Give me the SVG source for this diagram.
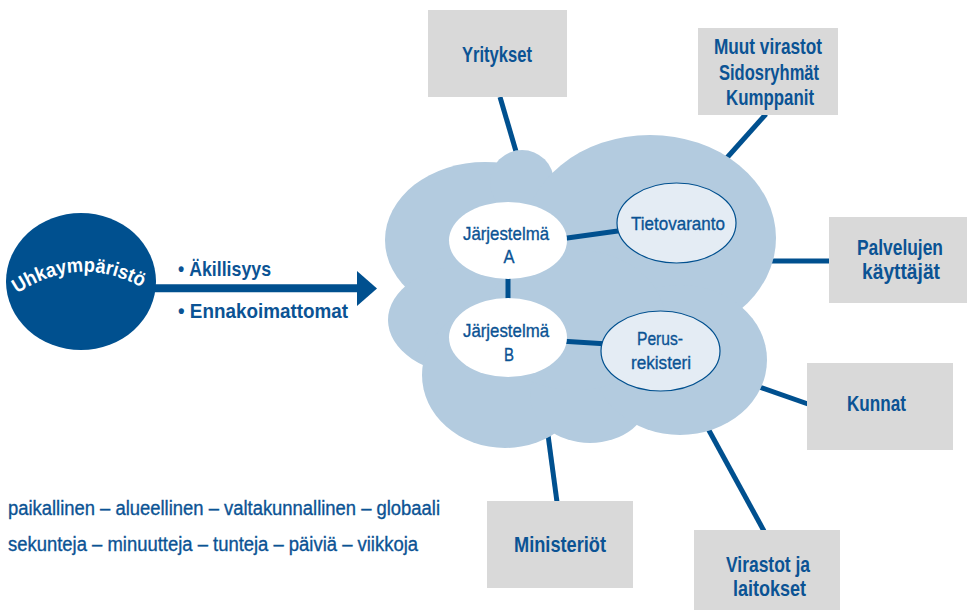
<svg xmlns="http://www.w3.org/2000/svg" width="967" height="610" viewBox="0 0 967 610">
  <defs>
    <style>
      .t { font-family: "Liberation Sans Narrow", "Liberation Sans", Arial, sans-serif; fill: #0b5394; }
      .r { stroke: #0b5394; stroke-width: 0.35; }
      .b { font-weight: bold; }
      .box { fill: #d9d9d9; }
      .lobe { fill: #b3cbdf; }
      .link { stroke: #00508f; stroke-width: 5; fill: none; }
      .sys { fill: #ffffff; }
      .store { fill: #e4ecf4; stroke: #00508f; stroke-width: 1.2; }
      .mid { text-anchor: middle; }
    </style>
    <!-- cloud outline built from overlapping lobes -->
    <g id="cloudShape">
      <ellipse cx="485" cy="240" rx="100" ry="78"/>
      <circle cx="522" cy="182" r="32"/>
      <ellipse cx="650" cy="238" rx="126" ry="103"/>
      <ellipse cx="470" cy="320" rx="82" ry="55"/>
      <ellipse cx="505" cy="375" rx="83" ry="73"/>
      <ellipse cx="590" cy="395" rx="60" ry="48"/>
      <ellipse cx="680" cy="360" rx="87" ry="75"/>
      <ellipse cx="575" cy="320" rx="90" ry="70"/>
    </g>
    <mask id="outsideCloud" maskUnits="userSpaceOnUse" x="0" y="0" width="967" height="610">
      <rect x="0" y="0" width="967" height="610" fill="#fff"/>
      <use href="#cloudShape" fill="#000"/>
    </mask>
    <path id="arcPath" d="M 12,297 Q 81,248 153,294"/>
  </defs>

  <rect width="967" height="610" fill="#ffffff"/>

  <!-- cloud -->
  <g id="cloud" class="lobe">
    <use href="#cloudShape"/>
  </g>

  <!-- connectors -->
  <g id="connectors">
    <g mask="url(#outsideCloud)">
      <line class="link" x1="500" y1="97" x2="520" y2="165"/>
      <line class="link" x1="766" y1="114" x2="716" y2="170"/>
      <line class="link" x1="830" y1="261" x2="760" y2="261"/>
      <line class="link" x1="808" y1="404" x2="745" y2="382"/>
      <line class="link" x1="764" y1="531" x2="700" y2="414"/>
      <line class="link" x1="557" y1="502" x2="546" y2="420"/>
    </g>
    <line class="link" x1="560" y1="239" x2="625" y2="230"/>
    <line class="link" x1="508" y1="270" x2="508" y2="305"/>
    <line class="link" x1="560" y1="341" x2="608" y2="344"/>
    <!-- threat arrow -->
    <line x1="150" y1="288.3" x2="359" y2="288.3" stroke="#00508f" stroke-width="8"/>
    <polygon points="357,271 377,288.5 357,306" fill="#00508f"/>
  </g>

  <!-- threat environment -->
  <g id="uhkaymparisto">
    <ellipse cx="81" cy="281.5" rx="75" ry="68.5" fill="#00508f"/>
    <text font-family="Liberation Sans Narrow, Liberation Sans, Arial, sans-serif" font-weight="bold" font-size="20" fill="#ffffff" textLength="132" lengthAdjust="spacingAndGlyphs">
      <textPath href="#arcPath" startOffset="6">Uhkaympäristö</textPath>
    </text>
  </g>

  <g id="ominaisuudet">
    <text class="t b" x="178" y="276" font-size="21" textLength="93" lengthAdjust="spacingAndGlyphs">• Äkillisyys</text>
    <text class="t b" x="178" y="318" font-size="21" textLength="170" lengthAdjust="spacingAndGlyphs">• Ennakoimattomat</text>
  </g>

  <!-- systems inside the cloud -->
  <g id="jarjestelmaA">
    <ellipse class="sys" cx="508" cy="240.5" rx="59" ry="38.5"/>
    <text class="t r mid" x="506" y="240" font-size="19" textLength="86" lengthAdjust="spacingAndGlyphs">Järjestelmä</text>
    <text class="t r mid" x="509" y="263" font-size="19" textLength="11" lengthAdjust="spacingAndGlyphs">A</text>
  </g>
  <g id="jarjestelmaB">
    <ellipse class="sys" cx="508" cy="337.5" rx="59" ry="39.5"/>
    <text class="t r mid" x="506" y="337" font-size="19" textLength="86" lengthAdjust="spacingAndGlyphs">Järjestelmä</text>
    <text class="t r mid" x="509" y="361" font-size="19" textLength="10" lengthAdjust="spacingAndGlyphs">B</text>
  </g>
  <g id="tietovaranto">
    <ellipse class="store" cx="676.5" cy="223" rx="59.5" ry="40"/>
    <text class="t r mid" x="678" y="230" font-size="19" textLength="94" lengthAdjust="spacingAndGlyphs">Tietovaranto</text>
  </g>
  <g id="perusrekisteri">
    <ellipse class="store" cx="660.5" cy="351" rx="59.5" ry="40"/>
    <text class="t r mid" x="660" y="345" font-size="19" textLength="46" lengthAdjust="spacingAndGlyphs">Perus-</text>
    <text class="t r mid" x="661" y="369" font-size="19" textLength="60" lengthAdjust="spacingAndGlyphs">rekisteri</text>
  </g>

  <!-- stakeholder boxes -->
  <g id="yritykset">
    <rect class="box" x="428" y="10" width="139" height="87"/>
    <text class="t b mid" x="497" y="62" font-size="22" textLength="70" lengthAdjust="spacingAndGlyphs">Yritykset</text>
  </g>
  <g id="muutVirastot">
    <rect class="box" x="698" y="28" width="140" height="87"/>
    <text class="t b mid" x="768" y="54" font-size="22" textLength="108" lengthAdjust="spacingAndGlyphs">Muut virastot</text>
    <text class="t b mid" x="769" y="80" font-size="22" textLength="100" lengthAdjust="spacingAndGlyphs">Sidosryhmät</text>
    <text class="t b mid" x="770" y="105" font-size="22" textLength="88" lengthAdjust="spacingAndGlyphs">Kumppanit</text>
  </g>
  <g id="palvelujenKayttajat">
    <rect class="box" x="829" y="217" width="138" height="86"/>
    <text class="t b mid" x="900" y="255" font-size="22" textLength="86" lengthAdjust="spacingAndGlyphs">Palvelujen</text>
    <text class="t b mid" x="901" y="279" font-size="22" textLength="78" lengthAdjust="spacingAndGlyphs">käyttäjät</text>
  </g>
  <g id="kunnat">
    <rect class="box" x="807" y="363" width="146" height="87"/>
    <text class="t b mid" x="876.5" y="411" font-size="22" textLength="59" lengthAdjust="spacingAndGlyphs">Kunnat</text>
  </g>
  <g id="ministeriot">
    <rect class="box" x="487" y="501" width="146" height="87"/>
    <text class="t b mid" x="560" y="552" font-size="22" textLength="92" lengthAdjust="spacingAndGlyphs">Ministeriöt</text>
  </g>
  <g id="virastotJaLaitokset">
    <rect class="box" x="694" y="530" width="146" height="85"/>
    <text class="t b mid" x="768" y="572" font-size="22" textLength="84" lengthAdjust="spacingAndGlyphs">Virastot ja</text>
    <text class="t b mid" x="769.5" y="596" font-size="22" textLength="73" lengthAdjust="spacingAndGlyphs">laitokset</text>
  </g>

  <!-- scale notes -->
  <g id="mittakaavat">
    <text class="t r" x="8" y="515" font-size="20" textLength="432" lengthAdjust="spacingAndGlyphs">paikallinen – alueellinen – valtakunnallinen – globaali</text>
    <text class="t r" x="8" y="551" font-size="20" textLength="410" lengthAdjust="spacingAndGlyphs">sekunteja – minuutteja – tunteja – päiviä – viikkoja</text>
  </g>
</svg>
